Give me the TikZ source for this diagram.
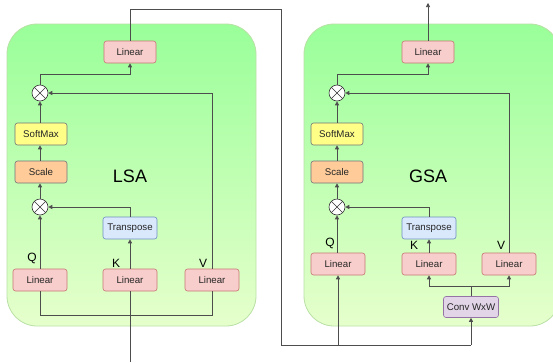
\documentclass[tikz,border=0pt]{standalone}
\usepackage{fontspec}
\setmainfont{Liberation Sans}
\usetikzlibrary{arrows.meta}
\definecolor{linfill}{HTML}{F8CECC}
\definecolor{lindraw}{HTML}{B85450}
\definecolor{softfill}{HTML}{FFFF88}
\definecolor{scalefill}{HTML}{FFCC99}
\definecolor{boxdraw}{HTML}{36393D}
\definecolor{trfill}{HTML}{DAE8FC}
\definecolor{trdraw}{HTML}{6C8EBF}
\definecolor{cvfill}{HTML}{E1D5E7}
\definecolor{cvdraw}{HTML}{9673A6}
\definecolor{gtop}{HTML}{99FF99}
\definecolor{gbot}{HTML}{E6FFCC}
\definecolor{gdraw}{HTML}{B9E0A5}
\definecolor{wire}{HTML}{4D4D4D}
\tikzset{
  blk/.style={rounded corners=2.5pt, minimum height=22pt, inner sep=0pt, font=\fontsize{9.7}{10}\selectfont, text=black!85, line width=0.6pt},
  linbox/.style={blk, fill=linfill, draw=lindraw!80, minimum width=54pt},
  softbox/.style={blk, fill=softfill, draw=boxdraw!70, minimum width=52pt},
  scalebox/.style={blk, fill=scalefill, draw=boxdraw!70, minimum width=52pt},
  trbox/.style={blk, fill=trfill, draw=trdraw, minimum width=54pt},
  cvbox/.style={blk, fill=cvfill, draw=cvdraw, minimum width=55pt, minimum height=21pt},
  mulnode/.style={circle, draw=black!80, fill=white, minimum size=16pt, inner sep=0pt, line width=0.6pt,
    path picture={\draw[black!80, line width=0.6pt] (path picture bounding box.north west) -- (path picture bounding box.south east)
      (path picture bounding box.north east) -- (path picture bounding box.south west);}},
  wr/.style={draw=wire, line width=0.7pt},
  arr/.style={wr, -{Triangle[length=4pt,width=4pt]}},
  lbl/.style={font=\fontsize{12}{12}\selectfont, inner sep=0pt},
  big/.style={font=\fontsize{18}{18}\selectfont, inner sep=0pt},
  panel/.style={draw=gdraw, line width=0.8pt, top color=gtop, bottom color=gbot, rounded corners=30pt}
}
\begin{document}
\begin{tikzpicture}[x=1pt,y=-1pt]
\useasboundingbox (0,0) rectangle (553,362);
% panels
\path[panel] (7,24) rectangle (256,326);
\path[panel] (304,24) rectangle (560,326);
\node[big] (lsa) at (130,176) {LSA};
\node[big] (gsa) at (428,176) {GSA};
% LSA nodes
\node[linbox, minimum width=52pt] (lin1) at (130,52) {Linear};
\node[mulnode] (mul1) at (40,93) {};
\node[softbox] (soft1) at (41,134) {SoftMax};
\node[scalebox] (scale1) at (41,172) {Scale};
\node[mulnode] (mul2) at (40,207) {};
\node[trbox] (tr1) at (130,228) {Transpose};
\node[linbox] (q1) at (40,280) {Linear};
\node[linbox] (k1) at (130,280) {Linear};
\node[linbox] (v1) at (212,280) {Linear};
\node[lbl] (ql1) at (32,258) {Q};
\node[lbl] (kl1) at (116,263) {K};
\node[lbl] (vl1) at (203,263) {V};
% GSA nodes
\node[linbox, minimum width=52pt] (lin2) at (428,52) {Linear};
\node[mulnode] (mul3) at (337,93) {};
\node[softbox] (soft2) at (337,134) {SoftMax};
\node[scalebox] (scale2) at (337,172) {Scale};
\node[mulnode] (mul4) at (337,207) {};
\node[trbox] (tr2) at (429,228) {Transpose};
\node[linbox] (q2) at (338,264) {Linear};
\node[linbox] (k2) at (429,264) {Linear};
\node[linbox] (v2) at (509,264) {Linear};
\node[cvbox] (conv) at (471,307) {Conv WxW};
\node[lbl] (ql2) at (330,243) {Q};
\node[lbl] (kl2) at (414,245) {K};
\node[lbl] (vl2) at (501,245) {V};
% coordinates
\coordinate (in) at (130,362);
\coordinate (out) at (428,3);
\coordinate (j1) at (40,74);
\coordinate (j3) at (337,74);
\coordinate (ta) at (130,9);
\coordinate (tb) at (281,9);
\coordinate (tc) at (281,345);
\coordinate (td) at (338,345);
\coordinate (te) at (471,345);
\coordinate (bl) at (40,315);
\coordinate (br) at (212,315);
\coordinate (cs) at (471,286);
% LSA wires
\draw[arr] (q1.north) -- (mul2.south);
\draw[arr] (k1.north) -- (tr1.south);
\draw[arr] (tr1.north) |- (mul2.east);
\draw[arr] (mul2.north) -- (scale1.south -| mul2.north);
\draw[arr] (scale1.north -| mul2.north) -- (soft1.south -| mul2.north);
\draw[arr] (soft1.north -| mul2.north) -- (mul1.south);
\draw[arr] (v1.north) |- (mul1.east);
\draw[arr] (mul1.north) -- (j1) -| (lin1.south);
\draw[wr] (q1.south) -- (bl) -- (br) -- (v1.south);
\draw[wr] (in) -- (k1.south);
\draw[wr] (lin1.north) -- (ta) -- (tb) -- (tc) -- (te);
\draw[arr] (te) -- (conv.south);
\draw[arr] (td) -- (q2.south);
% GSA wires
\draw[wr] (conv.north) -- (cs);
\draw[arr] (cs) -| (k2.south);
\draw[arr] (cs) -| (v2.south);
\draw[arr] (k2.north) -- (tr2.south);
\draw[arr] (tr2.north) |- (mul4.east);
\draw[arr] (q2.north -| mul4.south) -- (mul4.south);
\draw[arr] (mul4.north) -- (scale2.south);
\draw[arr] (scale2.north) -- (soft2.south);
\draw[arr] (soft2.north) -- (mul3.south);
\draw[arr] (v2.north) |- (mul3.east);
\draw[arr] (mul3.north) -- (j3) -| (lin2.south);
\draw[arr] (lin2.north) -- (out);
\end{tikzpicture}
\end{document}
